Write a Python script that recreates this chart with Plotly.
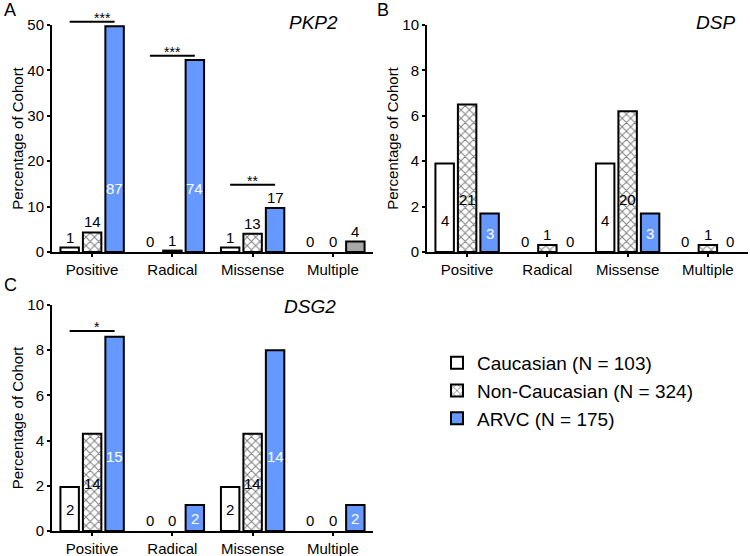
import plotly.graph_objects as go

categories = ["Positive", "Radical", "Missense", "Multiple"]
series_names = ["Caucasian (N = 103)", "Non-Caucasian (N = 324)", "ARVC (N = 175)"]

# Percentages
pkp2_cauc = [0.97, 0.0, 0.97, 0.0]
pkp2_noncauc = [4.3, 0.31, 4.0, 0.0]
pkp2_arvc = [49.7, 42.3, 9.7, 2.3]

dsp_cauc = [3.9, 0.0, 3.9, 0.0]
dsp_noncauc = [6.5, 0.31, 6.2, 0.31]
dsp_arvc = [1.7, 0.0, 1.7, 0.0]

dsg2_cauc = [1.95, 0.0, 1.95, 0.0]
dsg2_noncauc = [4.3, 0.0, 4.3, 0.0]
dsg2_arvc = [8.6, 1.15, 8.0, 1.15]

# Counts shown as labels
pkp2_counts = [[1, 0, 1, 0], [14, 1, 13, 0], [87, 74, 17, 4]]
dsp_counts = [[4, 0, 4, 0], [21, 1, 20, 1], [3, 0, 3, 0]]
dsg2_counts = [[2, 0, 2, 0], [14, 0, 14, 0], [15, 2, 14, 2]]

# label placement: None -> above bar, number -> inside at that height
pkp2_lab = [[None] * 4, [None] * 4, [14, 14, None, None]]
dsp_lab = [[1.4, None, 1.4, None], [2.3, None, 2.3, None], [0.8, None, 0.8, None]]
dsg2_lab = [[0.93, None, 0.93, None], [2.1, None, 2.1, None], [3.3, 0.57, 3.3, 0.57]]

# significance brackets: (category index, height, stars)
pkp2_sig = [(0, 50.7, "***"), (1, 43.2, "***"), (2, 14.8, "**")]
dsp_sig = []
dsg2_sig = [(0, 8.85, "*")]

BLUE = "#6699FF"
GREY = "#A6A6A6"
FONT = "Arial, Liberation Sans, sans-serif"
BW = 0.23
CENTERS = [-0.28, 0.0, 0.28]
W, H = 750, 556

panels = [
    dict(vals=[pkp2_cauc, pkp2_noncauc, pkp2_arvc], counts=pkp2_counts, lab=pkp2_lab,
         sig=pkp2_sig, ymax=50, dtick=10, gene="PKP2", letter="A",
         xd=[52 / W, 373 / W], yd=[1 - 252 / H, 1 - 25 / H],
         gene_xy=(340, 23), letter_xy=(2, 10),
         blue=[BLUE, BLUE, BLUE, GREY]),
    dict(vals=[dsp_cauc, dsp_noncauc, dsp_arvc], counts=dsp_counts, lab=dsp_lab,
         sig=dsp_sig, ymax=10, dtick=2, gene="DSP", letter="B",
         xd=[427 / W, 748 / W], yd=[1 - 252 / H, 1 - 25 / H],
         gene_xy=(737, 23), letter_xy=(375, 10),
         blue=[BLUE] * 4),
    dict(vals=[dsg2_cauc, dsg2_noncauc, dsg2_arvc], counts=dsg2_counts, lab=dsg2_lab,
         sig=dsg2_sig, ymax=10, dtick=2, gene="DSG2", letter="C",
         xd=[52 / W, 373 / W], yd=[1 - 531 / H, 1 - 305 / H],
         gene_xy=(338, 306), letter_xy=(2, 285),
         blue=[BLUE] * 4),
]

fig = go.Figure()
annotations = []
shapes = []

for p_i, p in enumerate(panels):
    sfx = "" if p_i == 0 else str(p_i + 1)
    xa, ya = "x" + sfx, "y" + sfx
    for s_i in range(3):
        vals = p["vals"][s_i]
        lw = [2 if v > 0 else 0 for v in vals]
        if s_i == 0:
            marker = dict(color="white", line=dict(color="black", width=lw))
        elif s_i == 1:
            marker = dict(color="white", line=dict(color="black", width=lw),
                          pattern=dict(shape="x", fgcolor="black", bgcolor="white",
                                       size=6, solidity=0.3))
        else:
            marker = dict(color=p["blue"], line=dict(color="black", width=lw))
        fig.add_trace(go.Bar(
            x=categories, y=vals, name=series_names[s_i],
            xaxis=xa, yaxis=ya, width=BW, offset=CENTERS[s_i] - BW / 2,
            marker=marker, showlegend=(p_i == 0), legendgroup=str(s_i),
            hoverinfo="skip",
        ))
        # count labels
        for c_i in range(4):
            pos = p["lab"][s_i][c_i]
            txt = str(p["counts"][s_i][c_i])
            color = "white" if (s_i == 2 and pos is not None) else "black"
            if pos is None:
                annotations.append(dict(
                    x=c_i + CENTERS[s_i], y=vals[c_i], xref=xa, yref=ya,
                    text=txt, showarrow=False, yanchor="bottom", yshift=0,
                    font=dict(size=15, color=color, family=FONT)))
            else:
                annotations.append(dict(
                    x=c_i + CENTERS[s_i], y=pos, xref=xa, yref=ya,
                    text=txt, showarrow=False, yanchor="middle",
                    font=dict(size=15, color=color, family=FONT)))
    # significance brackets
    for c_i, h, stars in p["sig"]:
        x0 = (c_i + CENTERS[0] + 0.5) / 4
        x1 = (c_i + CENTERS[2] + 0.5) / 4
        yd = h / p["ymax"]
        shapes.append(dict(type="line", xref=xa + " domain", yref=ya + " domain",
                           x0=x0, x1=x1, y0=yd, y1=yd,
                           line=dict(color="black", width=2)))
        annotations.append(dict(x=(x0 + x1) / 2, y=yd, xref=xa + " domain",
                                yref=ya + " domain", text=stars, showarrow=False,
                                yanchor="bottom", yshift=-6,
                                font=dict(size=14, color="black", family=FONT)))
    # gene label
    gx, gy = p["gene_xy"]
    annotations.append(dict(x=gx / W, y=1 - gy / H, xref="paper",
                            yref="paper", text="<i>%s</i>" % p["gene"], showarrow=False,
                            xanchor="right", yanchor="middle",
                            font=dict(size=19, color="black", family=FONT)))
    # panel letter
    lx, ly = p["letter_xy"]
    annotations.append(dict(x=lx / W, y=1 - ly / H, xref="paper",
                            yref="paper", text=p["letter"], showarrow=False,
                            xanchor="left", yanchor="middle",
                            font=dict(size=18, color="black", family=FONT)))

    fig.layout["xaxis" + sfx] = dict(
        domain=p["xd"], anchor=ya, range=[-0.5, 3.5], type="category",
        showline=True, linecolor="black", linewidth=2, ticks="outside", ticklen=3,
        tickwidth=1.5, tickcolor="black", showgrid=False, zeroline=False,
        automargin=False,
        tickfont=dict(size=15, color="black", family=FONT), fixedrange=True)
    fig.layout["yaxis" + sfx] = dict(
        domain=p["yd"], anchor=xa, range=[0, p["ymax"]], dtick=p["dtick"],
        showline=True, linecolor="black", linewidth=2, ticks="outside", ticklen=3,
        tickwidth=1.5, tickcolor="black", showgrid=False, zeroline=False,
        automargin=False, fixedrange=True,
        tickfont=dict(size=15, color="black", family=FONT),
        title=dict(text="Percentage of Cohort", standoff=0,
                   font=dict(size=15, color="black", family=FONT)))

fig.update_layout(
    width=W, height=H, barmode="overlay",
    margin=dict(l=0, r=0, t=0, b=0, pad=0, autoexpand=False),
    paper_bgcolor="white", plot_bgcolor="white",
    annotations=annotations, shapes=shapes,
    legend=dict(x=437 / W, y=1 - 344 / H, xanchor="left", yanchor="top",
                font=dict(size=19, color="black", family=FONT),
                bgcolor="rgba(0,0,0,0)", itemsizing="constant", tracegroupgap=0),
    showlegend=True,
)

fig.write_html("out.html", config={"displayModeBar": False},
               post_script="document.body.style.margin='0';document.body.style.overflow='hidden';")
